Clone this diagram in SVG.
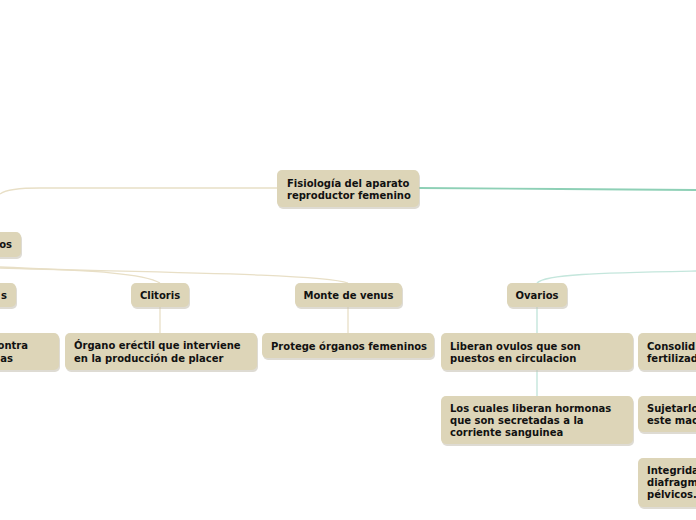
<svg xmlns="http://www.w3.org/2000/svg" width="696" height="520" viewBox="0 0 696 520">
<defs>
<style>
.sh{fill:#c2bdae;opacity:0.55}
.bx{fill:#ddd5b8}
.t{font-family:"DejaVu Sans",Verdana,sans-serif;font-weight:bold;font-size:10px;fill:#111}
.tan{fill:none;stroke:#e8dfc6;stroke-width:1.3}
.teal{fill:none;stroke:#8ed0b6;stroke-width:1.8}
.lteal{fill:none;stroke:#c4e6dc;stroke-width:1.4}
</style>
</defs>
<rect width="696" height="520" fill="#fff"/>
<g id="connectors">
<path class="tan" d="M277,188 L40,188 C15,188 5,190 0,194"/>
<path class="teal" d="M419,188 L560,189 L696,190"/>
<path class="tan" d="M0,267 C60,270 140,271 160,283"/>
<path class="tan" d="M0,268 C120,272 320,273 348,283"/>
<path class="tan" d="M160,307 L160,333"/>
<path class="tan" d="M348,307 L348,333"/>
<path class="lteal" d="M537,283 C545,274 600,273 696,271"/>
<path class="lteal" d="M537,307 L537,333"/>
<path class="lteal" d="M537,370 L537,396"/>
</g>
<g id="root">
<rect class="sh" x="278" y="172" width="142" height="37" rx="5"/>
<rect class="bx" x="277" y="170" width="142" height="37" rx="5"/>
<text class="t" x="287" y="187">Fisiología del aparato</text>
<text class="t" x="287" y="199">reproductor femenino</text>
</g>
<g id="n-os">
<rect class="sh" x="-20" y="234" width="42" height="25" rx="5"/>
<rect class="bx" x="-20" y="232" width="41" height="25" rx="5"/>
<text class="t" x="12" y="248" text-anchor="end">os</text>
</g>
<g id="n-s">
<rect class="sh" x="-20" y="285" width="37" height="24" rx="5"/>
<rect class="bx" x="-20" y="283" width="36" height="24" rx="5"/>
<text class="t" x="7" y="299" text-anchor="end">s</text>
</g>
<g id="clitoris">
<rect class="sh" x="132" y="285" width="58" height="24" rx="5"/>
<rect class="bx" x="131" y="283" width="58" height="24" rx="5"/>
<text class="t" x="160" y="299" text-anchor="middle">Clitoris</text>
</g>
<g id="monte">
<rect class="sh" x="296" y="285" width="107" height="24" rx="5"/>
<rect class="bx" x="295" y="283" width="107" height="24" rx="5"/>
<text class="t" x="348.5" y="299" text-anchor="middle">Monte de venus</text>
</g>
<g id="ovarios">
<rect class="sh" x="508" y="285" width="60" height="24" rx="5"/>
<rect class="bx" x="507" y="283" width="60" height="24" rx="5"/>
<text class="t" x="537" y="299" text-anchor="middle">Ovarios</text>
</g>
<g id="n-contra">
<rect class="sh" x="-20" y="335" width="80" height="37" rx="5"/>
<rect class="bx" x="-20" y="333" width="79" height="37" rx="5"/>
<text class="t" x="28" y="349" text-anchor="end">ontra</text>
<text class="t" x="13" y="362" text-anchor="end">as</text>
</g>
<g id="organo">
<rect class="sh" x="66" y="335" width="192" height="37" rx="5"/>
<rect class="bx" x="65" y="333" width="192" height="37" rx="5"/>
<text class="t" x="74" y="349">Órgano eréctil que interviene</text>
<text class="t" x="74" y="362">en la producción de placer</text>
</g>
<g id="protege">
<rect class="sh" x="263" y="335" width="172" height="25" rx="5"/>
<rect class="bx" x="262" y="333" width="172" height="25" rx="5"/>
<text class="t" x="271" y="350">Protege órganos femeninos</text>
</g>
<g id="liberan">
<rect class="sh" x="442" y="335" width="192" height="37" rx="5"/>
<rect class="bx" x="441" y="333" width="192" height="37" rx="5"/>
<text class="t" x="450" y="350">Liberan ovulos que son</text>
<text class="t" x="450" y="362">puestos en circulacion</text>
</g>
<g id="loscuales">
<rect class="sh" x="442" y="398" width="192" height="48" rx="5"/>
<rect class="bx" x="441" y="396" width="192" height="48" rx="5"/>
<text class="t" x="450" y="412">Los cuales liberan hormonas</text>
<text class="t" x="450" y="424">que son secretadas a la</text>
<text class="t" x="450" y="436">corriente sanguinea</text>
</g>
<g id="consolid">
<rect class="sh" x="639" y="335" width="80" height="37" rx="5"/>
<rect class="bx" x="638" y="333" width="80" height="37" rx="5"/>
<text class="t" x="647" y="350">Consolid</text>
<text class="t" x="647" y="362">fertilizad</text>
</g>
<g id="sujetarlo">
<rect class="sh" x="639" y="398" width="80" height="36" rx="5"/>
<rect class="bx" x="638" y="396" width="80" height="36" rx="5"/>
<text class="t" x="647" y="412">Sujetarlo</text>
<text class="t" x="647" y="424">este mac</text>
</g>
<g id="integrida">
<rect class="sh" x="639" y="460" width="80" height="49" rx="5"/>
<rect class="bx" x="638" y="458" width="80" height="49" rx="5"/>
<text class="t" x="647" y="474">Integrida</text>
<text class="t" x="647" y="486">diafragm</text>
<text class="t" x="647" y="498">pélvicos.</text>
</g>
</svg>
